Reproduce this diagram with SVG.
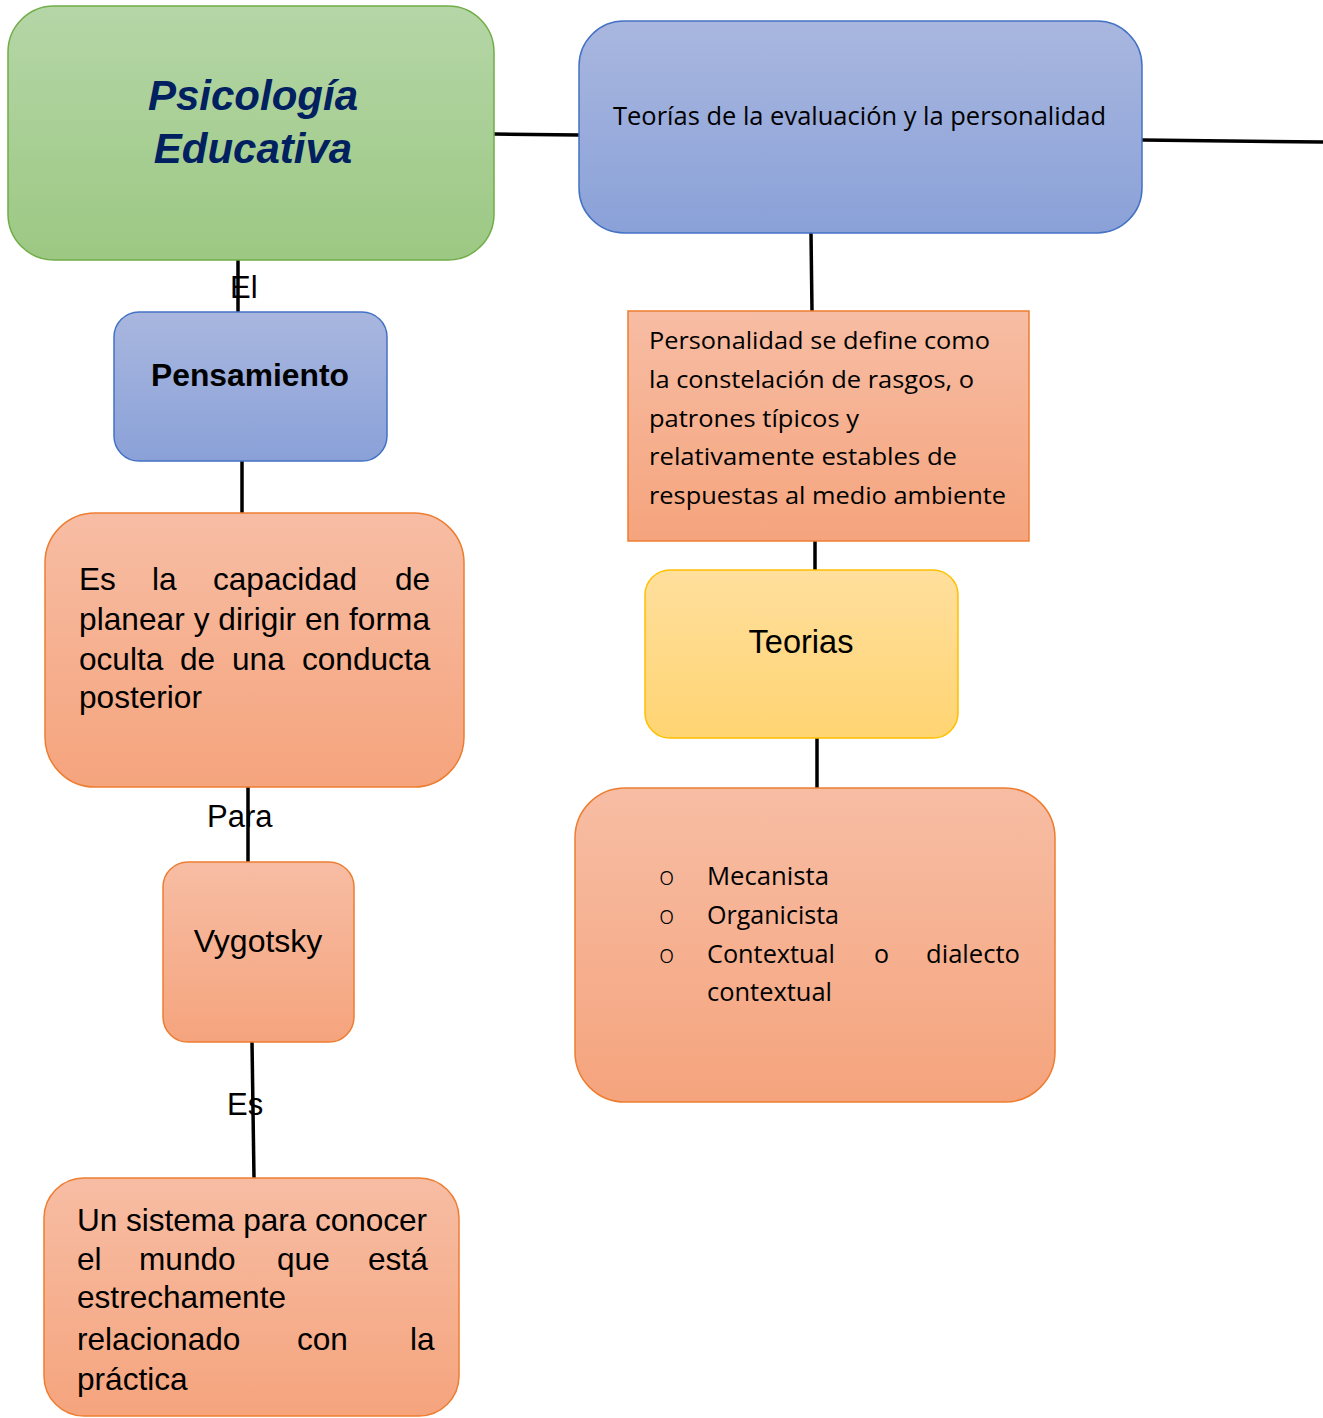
<svg xmlns="http://www.w3.org/2000/svg" width="1323" height="1418" viewBox="0 0 1323 1418">
<defs>
<linearGradient id="gGreen" x1="0" y1="0" x2="0" y2="1"><stop offset="0" stop-color="#b5d6a7"/><stop offset="1" stop-color="#9cc883"/></linearGradient>
<linearGradient id="gBlue" x1="0" y1="0" x2="0" y2="1"><stop offset="0" stop-color="#a9b7df"/><stop offset="1" stop-color="#8aa1d8"/></linearGradient>
<linearGradient id="gOrange" x1="0" y1="0" x2="0" y2="1"><stop offset="0" stop-color="#f7bda4"/><stop offset="1" stop-color="#f5a47d"/></linearGradient>
<linearGradient id="gYellow" x1="0" y1="0" x2="0" y2="1"><stop offset="0" stop-color="#ffdf9d"/><stop offset="1" stop-color="#ffd472"/></linearGradient>
</defs>
<style>
.green{fill:url(#gGreen);stroke:#70ad47;stroke-width:1.5}
.blue{fill:url(#gBlue);stroke:#4472c4;stroke-width:1.5}
.orange{fill:url(#gOrange);stroke:#ed7d31;stroke-width:1.5}
.yellow{fill:url(#gYellow);stroke:#ffc000;stroke-width:1.5}
.arial{font-family:"Liberation Sans",Arial,sans-serif;fill:#000}
.cal{font-family:"Open Sans","Noto Sans",sans-serif;fill:#000}
.conn line{stroke:#000;stroke-width:3.5}
.lbl{font-family:"Liberation Sans",Arial,sans-serif;font-size:31px;fill:#000}
</style>
<g id="connectors" class="conn">
<line x1="494" y1="134" x2="579" y2="135"/>
<line x1="1142" y1="140" x2="1323" y2="142"/>
<line x1="238" y1="260" x2="238" y2="312"/>
<line x1="242" y1="461" x2="242" y2="513"/>
<line x1="248" y1="787" x2="248" y2="862"/>
<line x1="252" y1="1042" x2="254" y2="1178"/>
<line x1="811" y1="233" x2="812" y2="311"/>
<line x1="815" y1="541" x2="815" y2="570"/>
<line x1="817" y1="738" x2="817" y2="788"/>
</g>
<g id="connector-labels">
<text class="lbl" x="230" y="298" font-size="28">El</text>
<text class="lbl" x="207" y="827">Para</text>
<text class="lbl" x="227" y="1115">Es</text>
</g>
<g id="node-psicologia">
<rect class="green" x="8" y="6" width="486" height="254" rx="46"/>
<text x="253" y="110" text-anchor="middle" font-family="Liberation Sans,Arial,sans-serif" font-weight="bold" font-style="italic" font-size="42" fill="#002060">Psicología</text>
<text x="253" y="163" text-anchor="middle" font-family="Liberation Sans,Arial,sans-serif" font-weight="bold" font-style="italic" font-size="42" fill="#002060">Educativa</text>
</g>
<g id="node-teorias-eval">
<rect class="blue" x="579" y="21" width="563" height="212" rx="45"/>
<text class="cal" x="613" y="125" font-size="25" textLength="493" lengthAdjust="spacingAndGlyphs">Teorías de la evaluación y la personalidad</text>
</g>
<g id="node-pensamiento">
<rect class="blue" x="114" y="312" width="273" height="149" rx="25"/>
<text class="arial" x="250" y="386" text-anchor="middle" font-size="31.8" font-weight="bold">Pensamiento</text>
</g>
<g id="node-capacidad">
<rect class="orange" x="45" y="513" width="419" height="274" rx="50"/>
<g class="arial" font-size="31.6">
<text x="79" y="590">Es</text><text x="152" y="590">la</text><text x="213" y="590">capacidad</text><text x="395" y="590">de</text>
<text x="79" y="630" textLength="351" lengthAdjust="spacing">planear y dirigir en forma</text>
<text x="79" y="670">oculta</text><text x="180" y="670">de</text><text x="232" y="670">una</text><text x="302" y="670">conducta</text>
<text x="79" y="708">posterior</text>
</g>
</g>
<g id="node-vygotsky">
<rect class="orange" x="163" y="862" width="191" height="180" rx="25"/>
<text class="arial" x="258" y="952" text-anchor="middle" font-size="32">Vygotsky</text>
</g>
<g id="node-sistema">
<rect class="orange" x="44" y="1178" width="415" height="238" rx="40"/>
<g class="arial" font-size="31.6">
<text x="77" y="1231" textLength="350" lengthAdjust="spacing">Un sistema para conocer</text>
<text x="77" y="1270">el</text><text x="139" y="1270">mundo</text><text x="277" y="1270">que</text><text x="368" y="1270">está</text>
<text x="77" y="1308">estrechamente</text>
<text x="77" y="1350">relacionado</text><text x="297" y="1350">con</text><text x="410" y="1350">la</text>
<text x="77" y="1390">práctica</text>
</g>
</g>
<g id="node-personalidad">
<rect class="orange" x="628" y="311" width="401" height="230"/>
<g class="cal" font-size="23">
<text x="649" y="349" textLength="341" lengthAdjust="spacingAndGlyphs">Personalidad se define como</text>
<text x="649" y="388" textLength="325" lengthAdjust="spacingAndGlyphs">la constelación de rasgos, o</text>
<text x="649" y="427" textLength="210" lengthAdjust="spacingAndGlyphs">patrones típicos y</text>
<text x="649" y="465" textLength="308" lengthAdjust="spacingAndGlyphs">relativamente estables de</text>
<text x="649" y="504" textLength="357" lengthAdjust="spacingAndGlyphs">respuestas al medio ambiente</text>
</g>
</g>
<g id="node-teorias">
<rect class="yellow" x="645" y="570" width="313" height="168" rx="25"/>
<text class="arial" x="801" y="653" text-anchor="middle" font-size="32.5">Teorias</text>
</g>
<g id="node-lista">
<rect class="orange" x="575" y="788" width="480" height="314" rx="50"/>
<g class="cal" font-size="25">
<text x="659" y="885" font-size="26" font-weight="300">o</text>
<text x="659" y="924" font-size="26" font-weight="300">o</text>
<text x="659" y="963" font-size="26" font-weight="300">o</text>
<text x="707" y="885" textLength="122" lengthAdjust="spacingAndGlyphs">Mecanista</text>
<text x="707" y="924" textLength="132" lengthAdjust="spacingAndGlyphs">Organicista</text>
<text x="707" y="963" textLength="128" lengthAdjust="spacingAndGlyphs">Contextual</text>
<text x="874" y="963">o</text>
<text x="926" y="963" textLength="94" lengthAdjust="spacingAndGlyphs">dialecto</text>
<text x="707" y="1001" textLength="125" lengthAdjust="spacingAndGlyphs">contextual</text>
</g>
</g>
</svg>
